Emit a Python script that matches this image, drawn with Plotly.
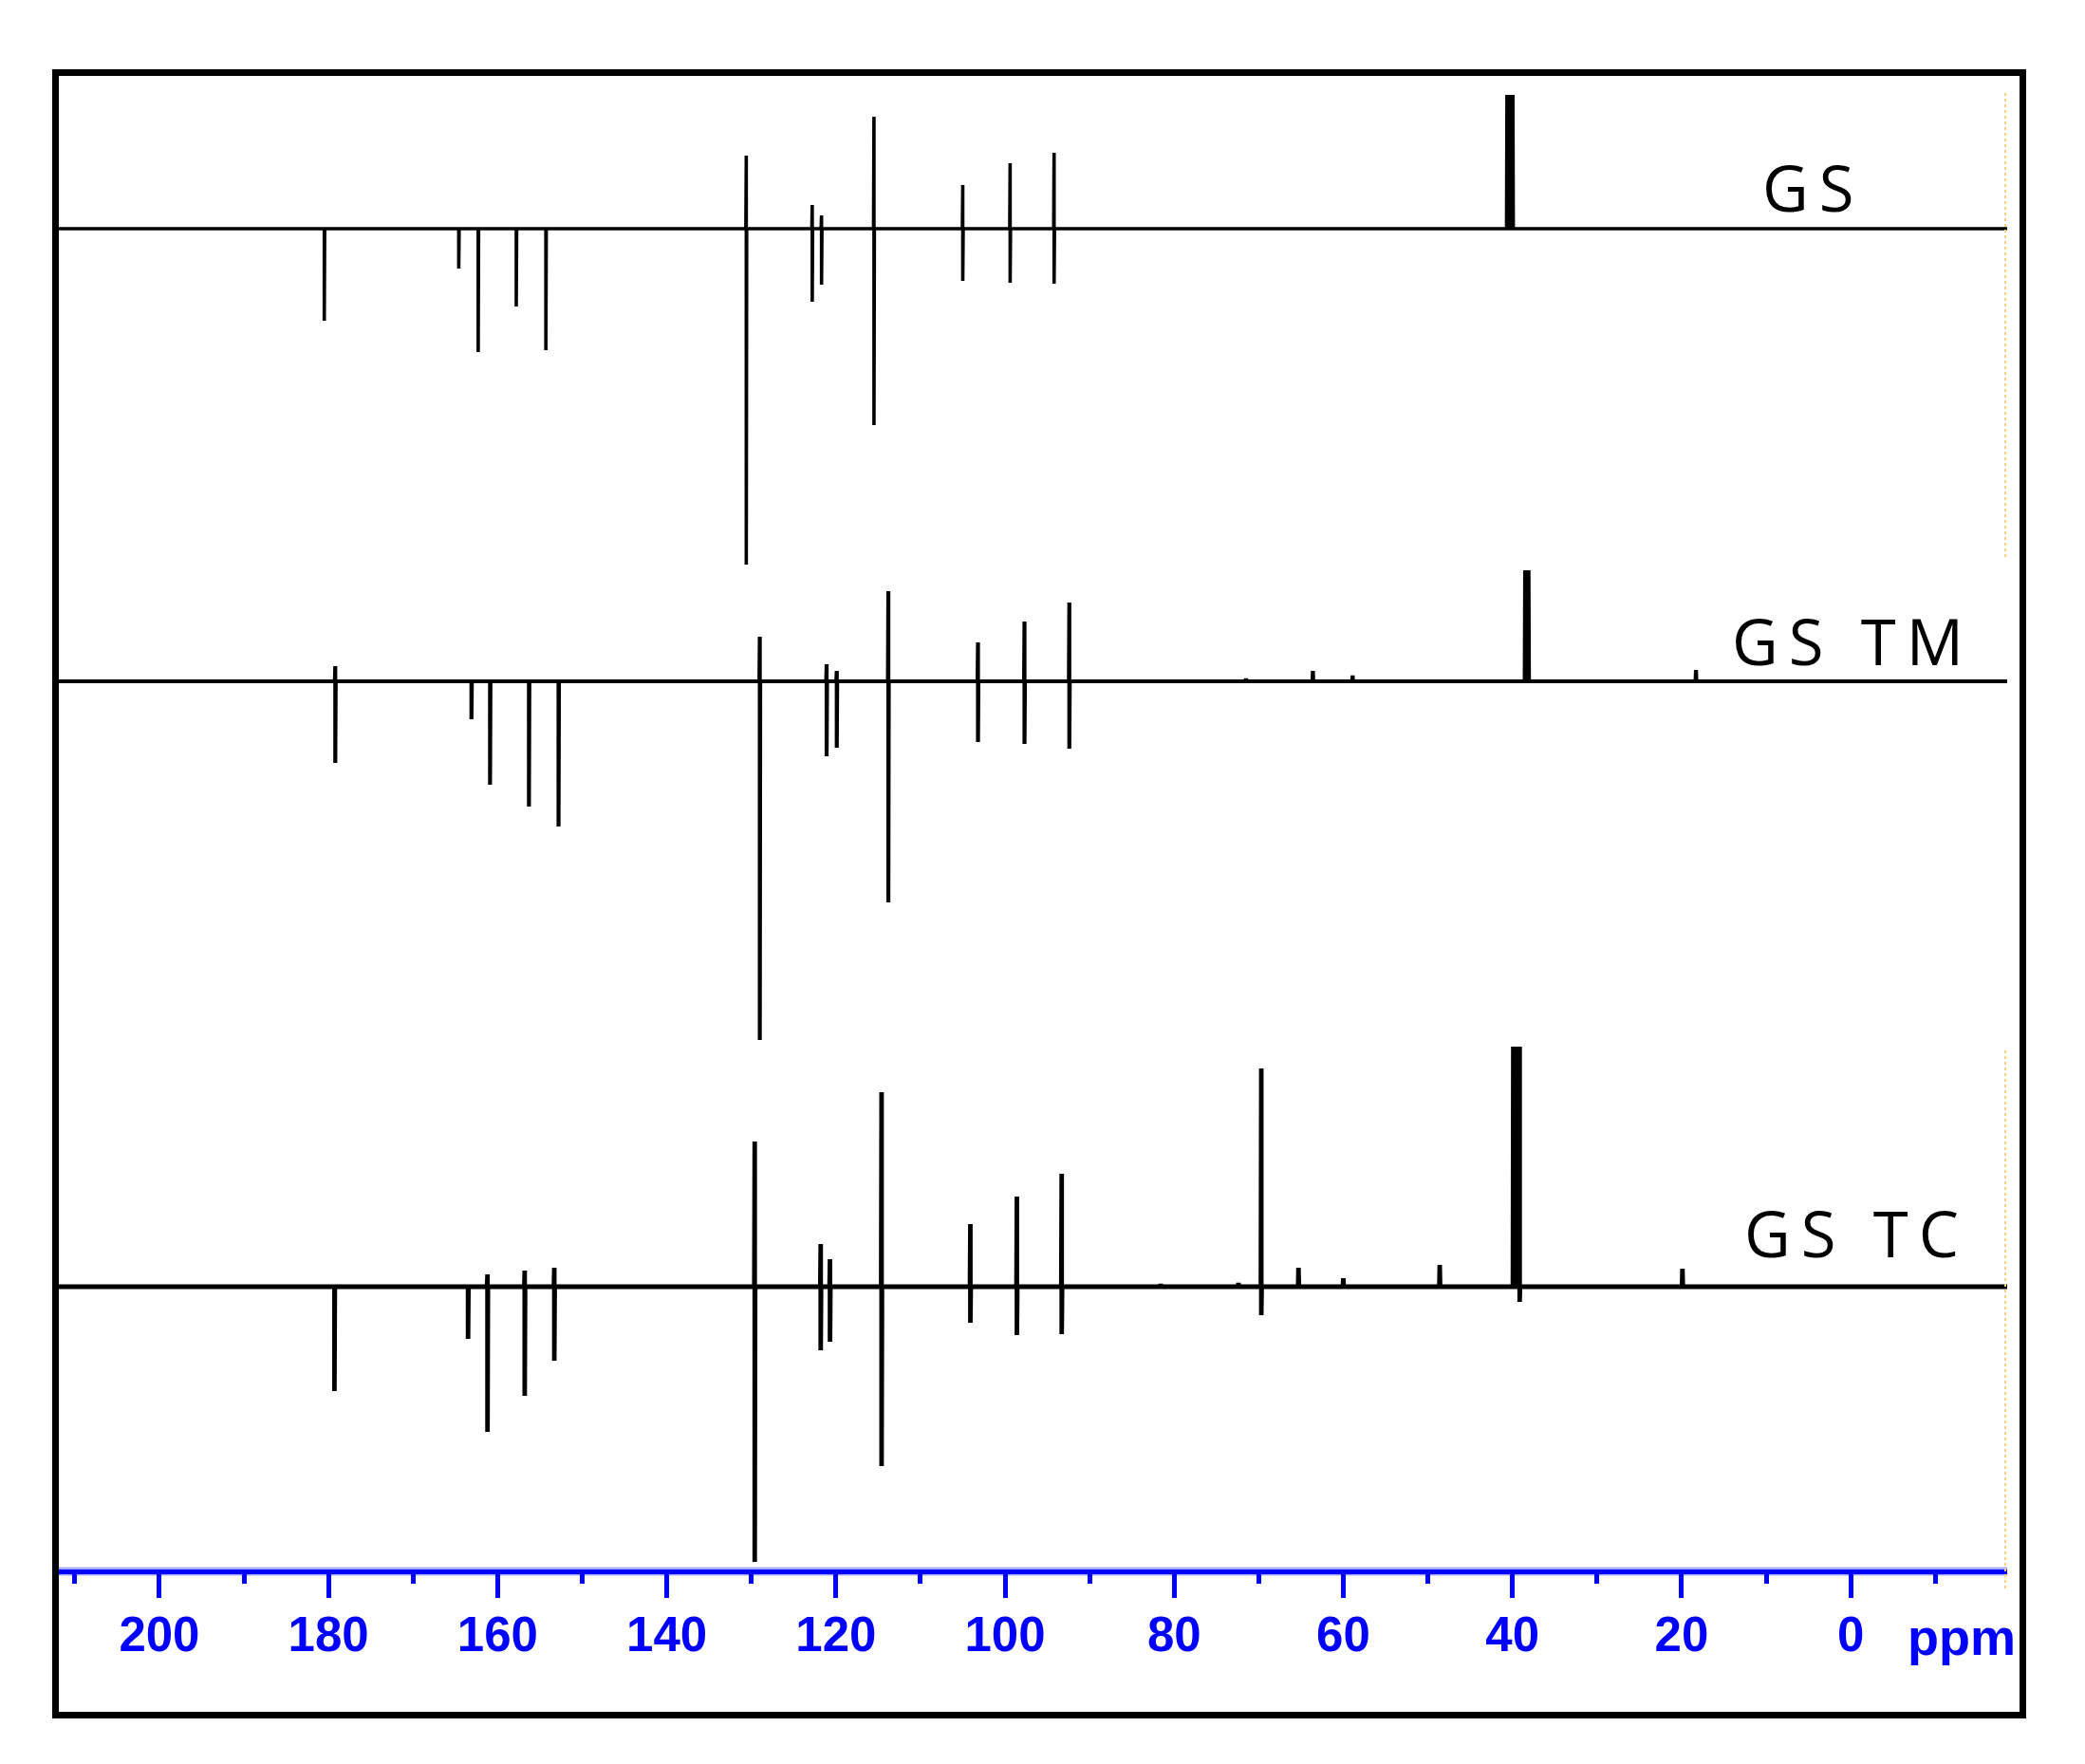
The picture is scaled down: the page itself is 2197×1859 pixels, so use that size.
import plotly.graph_objects as go

# spectral window (ppm), left to right
SPEC_START, SPEC_END = 212.0, -18.5

# GS: peak positions (ppm), height above / depth below baseline
gs_ppm = [180.5, 164.6, 162.3, 157.8, 154.3, 130.6, 122.8, 121.7, 115.5, 105.0, 99.4, 94.2,
          40.65, 40.42, 40.18, 39.95]
gs_up = [0, 0, 0, 0, 0, 77, 25, 14, 118, 46, 69, 80, 141, 141, 141, 141]
gs_down = [97, 42, 130, 82, 128, 354, 77, 59, 207, 55, 57, 58, 0, 0, 0, 0]

# GS TM
tm_ppm = [179.2, 163.1, 160.9, 156.3, 152.8, 129.0, 121.1, 119.9, 113.8, 103.2, 97.7, 92.4,
          71.5, 63.6, 58.9, 38.5, 38.3, 38.1, 18.3]
tm_up = [16, 0, 0, 0, 0, 47, 18, 11, 95, 41, 63, 83, 3, 11, 6, 117, 117, 117, 12]
tm_down = [86, 40, 109, 132, 153, 378, 79, 70, 233, 64, 66, 71, 0, 0, 0, 0, 0, 0, 0]

# GS TC
tc_ppm = [179.3, 163.5, 161.2, 156.8, 153.3, 129.6, 121.8, 120.7, 114.6, 104.1, 98.6, 93.3,
          81.6, 72.4, 69.7, 65.3, 60.0, 48.6, 39.9, 39.65, 39.4, 39.15, 19.9]
tc_up = [0, 0, 13, 17, 20, 153, 45, 29, 205, 66, 95, 119, 3, 4, 230, 20, 9, 23,
         253, 253, 253, 253, 19]
tc_down = [110, 55, 153, 115, 78, 290, 67, 58, 189, 38, 51, 50, 0, 0, 30, 0, 0, 0,
           0, 0, 0, 16, 0]

TICK_VALS = [200, 180, 160, 140, 120, 100, 80, 60, 40, 20, 0]
TICK_TEXT = [str(v) for v in TICK_VALS]

# plot box in reference pixels; the page body adds an 8px margin
OFF = 8
L, R, T, B = 61, 2115, 85, 1654
W, H = 2197 - OFF, 1859 - OFF


def px_x(x):
    return (x - L) / (R - L)


def px_y(y):
    return (B - y) / (B - T)


def build_trace(ppm, up, down, base):
    xs, ys = [SPEC_START], [base]
    for p, u, d in sorted(zip(ppm, up, down), reverse=True):
        xs += [p + 0.05, p, p, p - 0.05]
        ys += [base, base + u, base - d, base]
    xs.append(SPEC_END)
    ys.append(base)
    return xs, ys


fig = go.Figure()

for name, ppm, up, down, row, lw in [
    ("GS", gs_ppm, gs_up, gs_down, 241, 3.6),
    ("GS TM", tm_ppm, tm_up, tm_down, 718, 4.2),
    ("GS TC", tc_ppm, tc_up, tc_down, 1356, 4.8),
]:
    xs, ys = build_trace(ppm, up, down, B - row)
    fig.add_trace(go.Scatter(x=xs, y=ys, mode="lines", name=name,
                             line=dict(color="black", width=lw), showlegend=False,
                             hoverinfo="skip"))

label_font = dict(family="Open Sans, Noto Sans, sans-serif", size=67, color="black")
for txt, px, py in [("GS", 1910, 197), ("GS TM", 1952, 675), ("GS TC", 1956, 1299)]:
    fig.add_annotation(x=px_x(px), y=px_y(py), xref="paper", yref="paper",
                       text='<span style="letter-spacing:11px">%s</span>' % txt,
                       showarrow=False, font=label_font, xanchor="center", yanchor="middle")

fig.add_annotation(x=px_x(2067), y=px_y(1725), xref="paper", yref="paper", text="ppm",
                   showarrow=False, xanchor="center", yanchor="middle",
                   font=dict(family="Liberation Sans, Arial", size=54, color="#0000ff",
                             weight="bold"))

# outer frame
fig.add_shape(type="rect", xref="paper", yref="paper",
              x0=px_x(58.5), x1=px_x(2131.5), y0=px_y(1807.5), y1=px_y(76.5),
              line=dict(color="black", width=7))

# light halo around the axis line
fig.add_shape(type="line", xref="paper", yref="paper", layer="below",
              x0=0, x1=1, y0=px_y(1656), y1=px_y(1656),
              line=dict(color="#a9a9ff", width=9))

# faint scan artefact at the right edge
for y0, y1 in [(98, 588), (1107, 1674)]:
    fig.add_shape(type="line", xref="paper", yref="paper",
                  x0=px_x(2113), x1=px_x(2113), y0=px_y(y0), y1=px_y(y1),
                  line=dict(color="#f8d27a", width=2, dash="dot"))

fig.update_layout(
    width=W, height=H,
    margin=dict(l=L - OFF, r=2197 - R, t=T - OFF, b=1859 - B),
    paper_bgcolor="white", plot_bgcolor="white",
    xaxis=dict(range=[SPEC_START, SPEC_END], tickvals=TICK_VALS, ticktext=TICK_TEXT,
               showgrid=False, zeroline=False, showline=True, linecolor="#0000ff", linewidth=5,
               ticks="outside", ticklen=25, tickwidth=5, tickcolor="#0000ff",
               minor=dict(dtick=10, tick0=0, ticks="outside", ticklen=10, tickwidth=5,
                          tickcolor="#0000ff"),
               tickfont=dict(family="Liberation Sans, Arial", size=51, color="#0000ff",
                             weight="bold"),
               ticklabelstandoff=-5),
    yaxis=dict(range=[0, B - T], visible=False),
)

fig.write_html("out.html")
